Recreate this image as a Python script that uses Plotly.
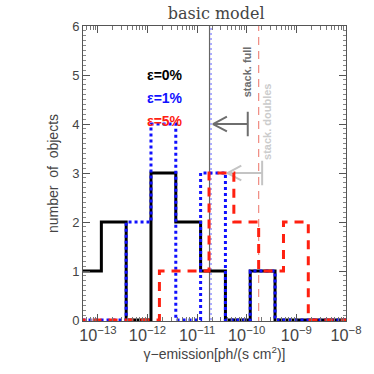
import plotly.graph_objects as go

# ---- data (log10 of flux for bin edges) ----
edges_a = [-13.43, -12.93, -12.43, -11.93, -11.43, -10.93, -10.43, -9.93, -9.43, -7.9]
counts_eps0 = [1, 2, 0, 3, 2, 1, 0, 1, 0]
counts_eps1 = [0, 0, 2, 4, 0, 3, 0, 1, 0]
edges_b = [-13.43, -11.76, -11.26, -10.76, -10.26, -9.76, -9.26, -8.76, -7.9]
counts_eps5 = [0, 1, 1, 3, 2, 1, 2, 0]

ref_eps0 = -10.75   # vertical reference lines (log10 flux)
ref_eps1 = -10.72
ref_eps5 = -9.76

stack_full = (-9.98, 4)      # upper limit (log10 flux, y)
stack_doubles = (-9.69, 3)

def step(edges, counts):
    xs = [10 ** e for e in edges]
    ys = list(counts) + [counts[-1]]
    return xs, ys

fig = go.Figure()

def vline(lx, color, dash, width):
    fig.add_trace(go.Scatter(x=[10 ** lx, 10 ** lx], y=[-0.1, 6.1], mode="lines",
                             line=dict(color=color, dash=dash, width=width),
                             showlegend=False, hoverinfo="skip"))

vline(ref_eps0, "#666666", "solid", 1.2)
vline(ref_eps1, "#7a7aff", "2px,3px", 1.2)
vline(ref_eps5, "#f08a80", "8px,6px", 1.2)

# upper-limit arrows
def ularrow(pt, color, width):
    lx, y = pt
    tip = lx - 0.70
    head = 0.28
    fig.add_trace(go.Scatter(x=[10 ** lx, 10 ** tip], y=[y, y], mode="lines",
                             line=dict(color=color, width=width), showlegend=False, hoverinfo="skip"))
    fig.add_trace(go.Scatter(x=[10 ** (tip + head), 10 ** tip, 10 ** (tip + head)],
                             y=[y + 0.15, y, y - 0.15], mode="lines",
                             line=dict(color=color, width=width), showlegend=False, hoverinfo="skip"))
    fig.add_trace(go.Scatter(x=[10 ** lx, 10 ** lx], y=[y - 0.25, y + 0.25], mode="lines",
                             line=dict(color=color, width=width), showlegend=False, hoverinfo="skip"))

ularrow(stack_full, "#6e6e6e", 2)
ularrow(stack_doubles, "#c4c4c4", 2)

x, y = step(edges_a, counts_eps0)
fig.add_trace(go.Scatter(x=x, y=y, mode="lines", line=dict(color="black", width=3, shape="hv"),
                         showlegend=False))
x, y = step(edges_a, counts_eps1)
fig.add_trace(go.Scatter(x=x, y=y, mode="lines", line=dict(color="#1010ff", width=3, shape="hv", dash="dot"),
                         showlegend=False))
x, y = step(edges_b, counts_eps5)
fig.add_trace(go.Scatter(x=x, y=y, mode="lines", line=dict(color="#ff2010", width=3, shape="hv", dash="9px,7px"),
                         showlegend=False))

anns = [
    dict(text="<b>ε=0%</b>", x=0.31, y=0.835, color="black"),
    dict(text="<b>ε=1%</b>", x=0.31, y=0.755, color="#1010ff"),
    dict(text="<b>ε=5%</b>", x=0.31, y=0.677, color="#ff2010"),
]
for a in anns:
    fig.add_annotation(text=a["text"], x=a["x"], y=a["y"], xref="paper", yref="paper",
                       xanchor="center", yanchor="middle",
                       showarrow=False, font=dict(size=14, color=a["color"], family="Liberation Sans"))

fig.add_annotation(text="<b>stack. full</b>", x=0.622, y=0.845, xref="paper", yref="paper",
                   xanchor="center", yanchor="middle",
                   textangle=-90, showarrow=False, font=dict(size=11, color="#6e6e6e", family="Liberation Sans"))
fig.add_annotation(text="<b>stack. doubles</b>", x=0.700, y=0.675, xref="paper", yref="paper",
                   xanchor="center", yanchor="middle",
                   textangle=-90, showarrow=False, font=dict(size=11, color="#cccccc", family="Liberation Sans"))

fig.update_layout(
    width=374, height=374,
    margin=dict(l=83, r=25, t=26, b=53),
    paper_bgcolor="white", plot_bgcolor="white",
    title=dict(text="basic model", x=0.578, xanchor="center", y=0.965, yanchor="middle",
               font=dict(family="DejaVu Serif", size=16, color="#444444")),
    font=dict(family="Liberation Sans", size=13, color="#444444"),
)
fig.update_xaxes(type="log", range=[-13.3, -8.0], tickmode="linear", tick0=0, dtick=1,
                 exponentformat="power", showexponent="all",
                 ticks="inside", ticklen=7, tickcolor="#555555", mirror="allticks",
                 showline=True, linecolor="#555555", linewidth=1, showgrid=False, zeroline=False,
                 minor=dict(ticks="inside", ticklen=4, dtick="D1", tickcolor="#777777", showgrid=False),
                 title=dict(text="γ−emission[ph/(s cm<sup>2</sup>)]", standoff=4,
                            font=dict(size=14, color="#444444")))
fig.update_yaxes(range=[-0.02, 6.0], tickmode="linear", tick0=0, dtick=1,
                 ticks="inside", ticklen=7, tickcolor="#555555", mirror="allticks",
                 showline=True, linecolor="#555555", linewidth=1, showgrid=False, zeroline=False,
                 minor=dict(ticks="inside", ticklen=3, dtick=0.1, tickcolor="#888888", showgrid=False),
                 title=dict(text="number  of  objects", standoff=10, font=dict(size=14, color="#444444")))

fig.write_html("out.html", config={"displayModeBar": False},
               post_script="document.body.style.margin='0';document.body.style.overflow='hidden';")
